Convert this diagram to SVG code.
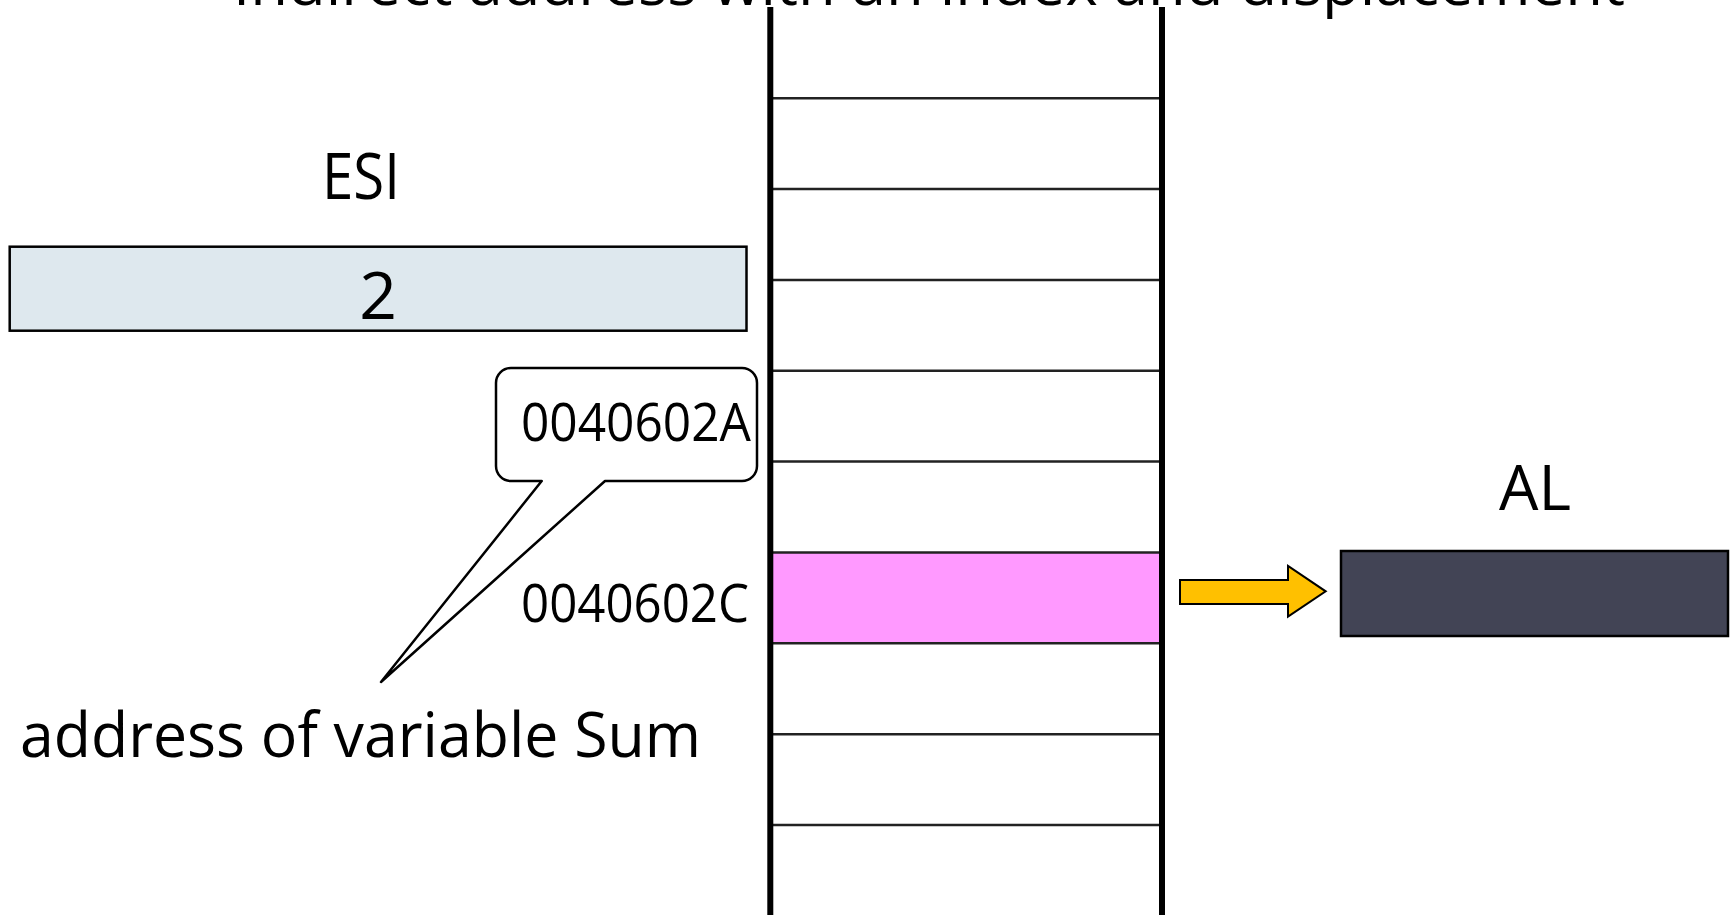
<svg xmlns="http://www.w3.org/2000/svg" width="1731" height="915" viewBox="0 0 1731 915">
  <style>
    text { font-family: "Open Sans", "DejaVu Sans", sans-serif; fill: #000; }
    .rail { stroke: #000; stroke-width: 6; }
    .cell { stroke: #222; stroke-width: 2.5; }
    .box { stroke: #000; stroke-width: 2.5; }
  </style>

  <!-- title, partly above the top edge -->
  <g id="title">
    <text x="233" y="5" font-size="60" textLength="1392" lengthAdjust="spacingAndGlyphs">Indirect address with an index and displacement</text>
  </g>

  <!-- memory column -->
  <g id="memory">
    <rect x="770" y="552.4" width="392" height="90.9" fill="#FF99FF"/>
    <line class="cell" x1="770" y1="98.2" x2="1162" y2="98.2"/>
    <line class="cell" x1="770" y1="189" x2="1162" y2="189"/>
    <line class="cell" x1="770" y1="279.9" x2="1162" y2="279.9"/>
    <line class="cell" x1="770" y1="370.8" x2="1162" y2="370.8"/>
    <line class="cell" x1="770" y1="461.6" x2="1162" y2="461.6"/>
    <line class="cell" x1="770" y1="552.4" x2="1162" y2="552.4"/>
    <line class="cell" x1="770" y1="643.3" x2="1162" y2="643.3"/>
    <line class="cell" x1="770" y1="734.2" x2="1162" y2="734.2"/>
    <line class="cell" x1="770" y1="825" x2="1162" y2="825"/>
    <line class="rail" x1="770.3" y1="7" x2="770.3" y2="915"/>
    <line class="rail" x1="1162" y1="7" x2="1162" y2="915"/>
  </g>

  <!-- ESI register -->
  <g id="esi">
    <text x="361" y="199" font-size="64" text-anchor="middle" textLength="78" lengthAdjust="spacingAndGlyphs">ESI</text>
    <rect class="box" x="9.7" y="246.7" width="736.8" height="84" fill="#DEE8EE"/>
    <text x="378" y="319.3" font-size="66" text-anchor="middle">2</text>
  </g>

  <!-- callout with the base address -->
  <g id="callout">
    <path class="box" fill="#fff" stroke-width="2" stroke-linejoin="round"
          d="M511,368 H742 A15,15 0 0 1 757,383 V466 A15,15 0 0 1 742,481 H605 L381,682 L541.7,481 H511 A15,15 0 0 1 496,466 V383 A15,15 0 0 1 511,368 Z"/>
    <text x="521" y="440.7" font-size="53" textLength="230" lengthAdjust="spacingAndGlyphs">0040602A</text>
  </g>

  <!-- address of the selected cell -->
  <g id="target-address">
    <text x="521" y="621.7" font-size="53" textLength="228" lengthAdjust="spacingAndGlyphs">0040602C</text>
  </g>

  <g id="sum-label">
    <text x="20" y="757.3" font-size="62" textLength="681" lengthAdjust="spacingAndGlyphs">address of variable Sum</text>
  </g>

  <!-- AL register -->
  <g id="al">
    <text x="1535" y="510" font-size="63" text-anchor="middle" textLength="72" lengthAdjust="spacingAndGlyphs">AL</text>
    <rect class="box" x="1341" y="551" width="387" height="85" fill="#424455"/>
  </g>

  <!-- transfer arrow -->
  <g id="connectors">
    <polygon points="1180,580 1288,580 1288,566 1325.7,591.3 1288,616.7 1288,604 1180,604"
             fill="#FFC000" stroke="#000" stroke-width="2" stroke-linejoin="miter"/>
  </g>
</svg>
